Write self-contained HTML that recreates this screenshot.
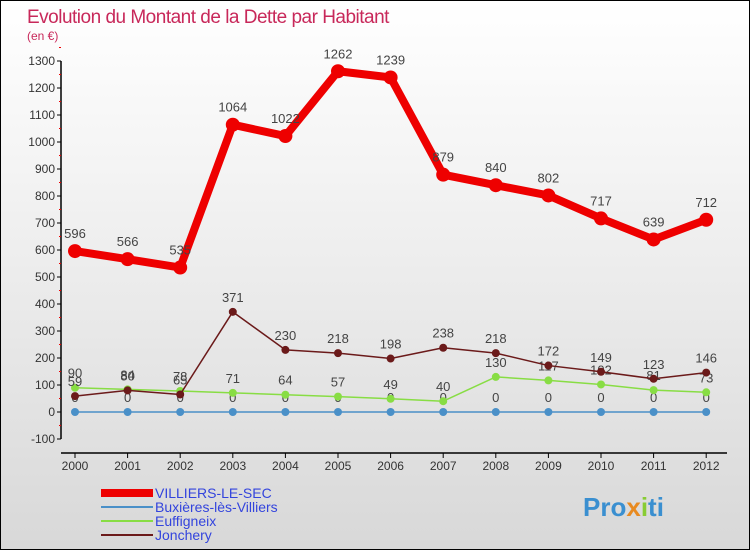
<!DOCTYPE html>
<html><head><meta charset="utf-8"><style>
body{margin:0;width:750px;height:550px;overflow:hidden;font-family:"Liberation Sans",sans-serif}
#w{position:relative;width:748px;height:548px;border:1px solid #000;background:linear-gradient(#fff 0%,#f4f4f4 30%,#d8d8d8 100%)}
</style></head><body>
<div id="w">
<svg id="s" width="748" height="548" style="position:absolute;left:0;top:0">
<text x="26" y="22" font-size="19" fill="#c8285a" style="letter-spacing:-0.5px">Evolution du Montant de la Dette par Habitant</text>
<text x="26" y="39" font-size="12" fill="#c8285a">(en €)</text>
</svg>
</div>
<script>
const years=[2000,2001,2002,2003,2004,2005,2006,2007,2008,2009,2010,2011,2012];
const villiers=[596,566,535,1064,1022,1262,1239,879,840,802,717,639,712];
const buxieres=[0,0,0,0,0,0,0,0,0,0,0,0,0];
const euffigneix=[90,84,78,71,64,57,49,40,130,117,102,81,73];
const jonchery=[59,80,65,371,230,218,198,238,218,172,149,123,146];
const yTicks=[-100,0,100,200,300,400,500,600,700,800,900,1000,1100,1200,1300];
const NS="http://www.w3.org/2000/svg";
const s=document.getElementById('s');
const X=i=>74+i*52.6, Y=v=>411-v*0.27;
function el(t,a,p){const e=document.createElementNS(NS,t);for(const k in a)e.setAttribute(k,a[k]);(p||s).appendChild(e);return e;}
// axes
let ax=el('line',{x1:60,y1:Y(1300),x2:60,y2:Y(-100),stroke:'#000','stroke-width':1.5});

let bx=el('line',{x1:60,y1:Y(-100)+14,x2:726,y2:Y(-100)+14,stroke:'#000','stroke-width':1.5});

yTicks.forEach(v=>{el('line',{x1:56,y1:Y(v),x2:60,y2:Y(v),stroke:'#000'});
 el('line',{x1:58,y1:Y(v+50),x2:60,y2:Y(v+50),stroke:'#e00'});
 const t=el('text',{x:54,y:Y(v)+4,'font-size':12,'text-anchor':'end',fill:'#333'});t.textContent=v;
 });
years.forEach((y,i)=>{el('line',{x1:X(i),y1:Y(-100)+14,x2:X(i),y2:Y(-100)+19,stroke:'#000'});
 const t=el('text',{x:X(i),y:Y(-100)+31,'font-size':12,'text-anchor':'middle',fill:'#333'});t.textContent=y;
 });
function series(d,col,w,r,name){
 const g=el('g',{});
 el('polyline',{points:d.map((v,i)=>X(i)+','+Y(v)).join(' '),fill:'none',stroke:col,'stroke-width':w,'stroke-linejoin':'round'},g);
 d.forEach((v,i)=>{const c=el('circle',{cx:X(i),cy:Y(v),r:r,fill:col},g);
  
  const t=el('text',{x:X(i),y:Y(v)-(r+6),'font-size':13,'text-anchor':'middle',fill:'#444'},g);t.textContent=v;
  });
}
series(buxieres,'#4a90c8',1.5,4,'buxieres');
series(euffigneix,'#88dd44',1.5,4,'euffigneix');
series(jonchery,'#6b1a1a',1.5,4,'jonchery');
series(villiers,'#ee0000',8,7,'villiers');
const leg=[['VILLIERS-LE-SEC','#ee0000',8],['Buxières-lès-Villiers','#4a90c8',2],['Euffigneix','#88dd44',2],['Jonchery','#6b1a1a',2]];
leg.forEach((l,i)=>{const g=el('g',{});
 const y=492+i*14;el('line',{x1:100,y1:y,x2:152,y2:y,stroke:l[1],'stroke-width':l[2]},g);
 const t=el('text',{x:154,y:y+5,'font-size':14,fill:'#3344dd'},g);t.textContent=l[0];});
const lg=el('text',{x:582,y:515,'font-size':26,'font-weight':'bold',fill:'#e88a20'});

lg.innerHTML='<tspan fill="#3a8fd0">Pro</tspan><tspan fill="#e88a20">x</tspan><tspan fill="#88cc33">i</tspan><tspan fill="#3a8fd0">ti</tspan>';
</script>
</body></html>
